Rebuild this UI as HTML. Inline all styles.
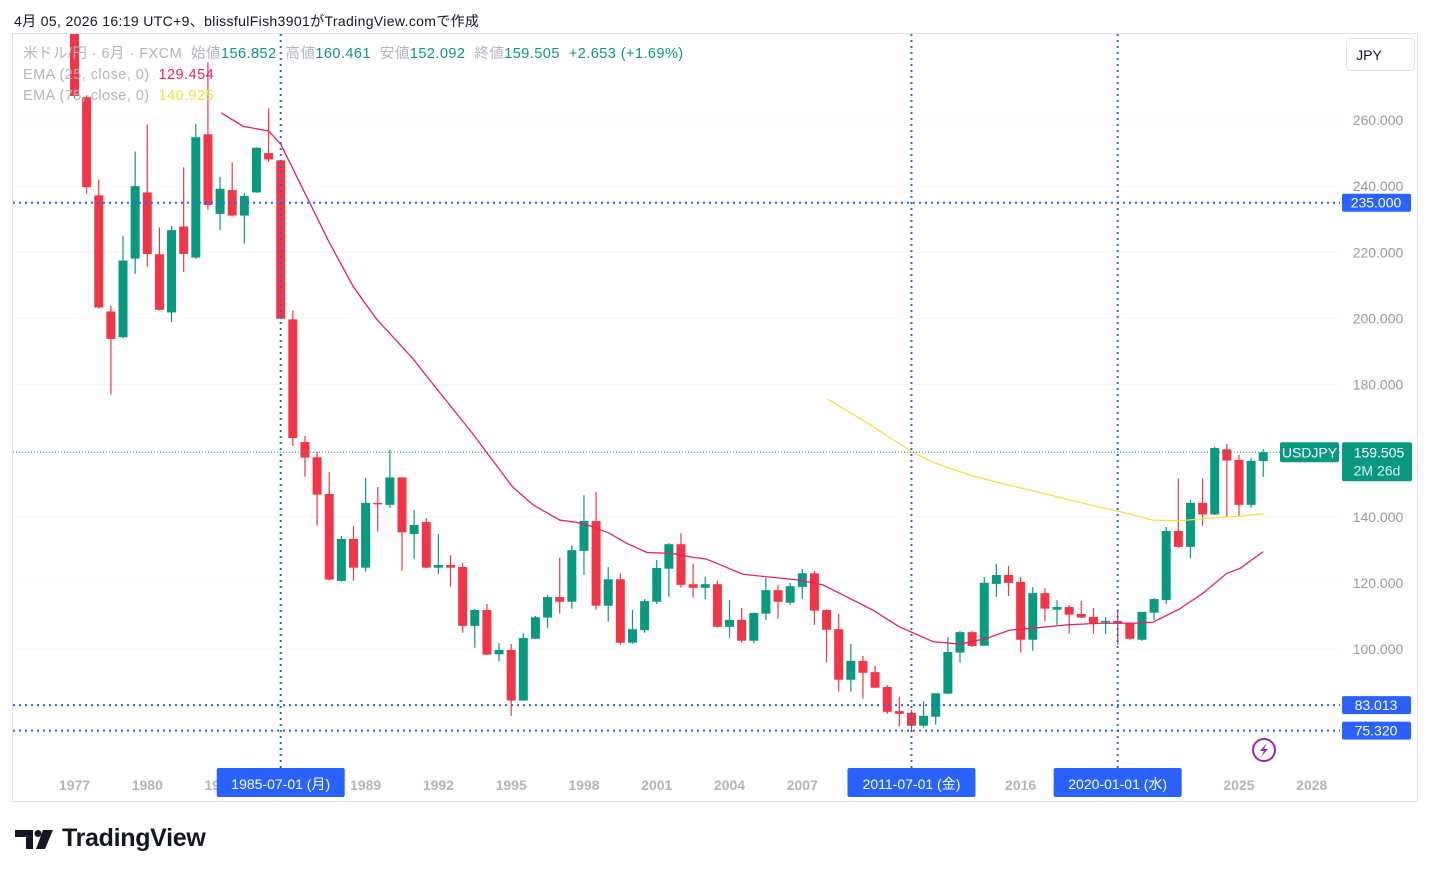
<!DOCTYPE html>
<html><head><meta charset="utf-8"><style>
body{margin:0;background:#fff;width:1431px;height:877px;overflow:hidden;font-family:"Liberation Sans","Noto Sans CJK JP",sans-serif}
#hdr{position:absolute;left:14px;top:11px;font-size:14px;color:#131722;letter-spacing:0.35px}
#legend{position:absolute;left:23px;top:44px;font-size:14.5px;color:#b2b5be;line-height:21px;letter-spacing:0.45px}
.g{color:#089981}.p{color:#e91e63}.y{color:#f7e03a}
#logo{position:absolute;left:62px;top:824px;font-size:25px;font-weight:bold;color:#131722;letter-spacing:-0.3px}
</style></head><body>
<div id="hdr">4月 05, 2026 16:19 UTC+9、blissfulFish3901がTradingView.comで作成</div>
<svg id="chart" width="1431" height="877" style="position:absolute;left:0;top:0"></svg>
<div id="legend">
<div>米ドル/円 · 6月 · FXCM &nbsp;始値<span class="g">156.852</span> &nbsp;高値<span class="g">160.461</span> &nbsp;安値<span class="g">152.092</span> &nbsp;終値<span class="g">159.505</span> &nbsp;<span class="g">+2.653 (+1.69%)</span></div>
<div>EMA (25, close, 0) &nbsp;<span class="p">129.454</span></div>
<div>EMA (75, close, 0) &nbsp;<span class="y">140.925</span></div>
</div>
<div id="logo">TradingView</div>
<script>
const opens=[292,266.9,237.2,202.1,194.3,218.1,238.1,219.4,201.8,227.8,218.4,255.7,231.6,238.8,231.1,238.1,250,247.8,199.7,162.6,158,146.9,120.6,133.3,124.6,144.2,143.6,151.9,134.8,138.4,124.6,125.4,124.8,107,111.8,98.4,99.7,84.4,103.1,109.5,115.7,114.3,129.7,138.7,113.1,121.1,101.9,105.7,114.3,124.3,131.7,119.6,118.5,119.6,106.7,108.8,102.5,110.7,117.8,114,118.8,122.9,111.8,106,90.7,96.4,93,88.5,81.2,80.7,76.8,79.5,86.5,98.9,105.1,101,119.7,122.4,120.3,102.8,116.9,111.9,112.7,110.6,109.7,108.1,108.5,107.8,102.8,111,114.8,135.7,130.9,144.2,140.7,160.4,157.2,143.6,156.852];
const highs=[295,267.5,242,203.8,224.9,250.5,258.6,227.5,228,245.7,258.8,277.5,242.8,247.2,238,251.8,263.5,248,202.4,164.4,159.6,153.5,134.2,137.2,151.7,149,160.2,152,142,139.6,134.8,128.4,126,112.1,113.6,101.8,101.5,104.8,110,116.3,127.6,131.4,146.5,147.5,124.8,122.9,111.8,115.1,126.9,132.1,135,125.7,121.8,120.6,114.8,112.4,111,121.5,119.4,120,124.2,123.6,112,110.6,101.5,97.9,94.9,89.1,85.5,81.6,84.2,86.7,103.6,105.5,105.5,121.8,125.7,125.1,121.8,118.7,118.4,114.8,113.3,114.5,112.4,109.7,112.1,108.1,111.3,115.4,136.9,151.6,145,151.6,161.2,162,158.7,157.7,160.461];
const lows=[266.5,237.8,203,177,194,213.5,215.6,202.4,198.9,214,218,232.9,226.7,230.8,222.6,238,247.3,199.8,161.4,152.1,137.3,120.8,120.4,120.7,123.4,135.5,142.7,123.7,127.3,124.5,122.7,118.8,104.9,100.4,98.2,96.2,79.8,84.3,103,106.4,110.7,112.2,122.4,111.9,108.3,101.3,101.6,104.9,113.6,115.8,118.6,115.5,115.1,106.5,103.4,101.9,101.7,108.8,109.2,113.4,115.2,107.3,95.9,87.1,87.1,85,88.2,80.4,76.5,75.3,76.2,77.1,86.4,95.9,100.6,100.9,115.8,116,98.9,99.5,108.3,107.3,104.6,109.4,104.6,104.6,101.3,102.8,102.5,108.8,113.5,130.6,127.4,137.3,140.5,139.8,140,142.7,152.092];
const closes=[267.3,239.7,203.3,193.8,217.5,240,219.5,202.6,226.7,219.5,254.8,234.3,239.2,231.1,237,251.6,248.1,199.9,163.8,157.9,146.7,121,133.3,124.6,144.2,144,151.9,135.3,137.5,124.6,125.4,124.6,107,111.8,98.3,99.7,84.4,103.3,109.6,115.7,114.3,129.9,138.7,113.1,121.1,101.9,106,114.5,124.5,131.7,119.4,118.5,119.6,106.7,108.8,102.5,110.9,117.8,114.3,119,122.9,111.6,105.8,90.7,96.4,92.8,88.3,81,80.4,76.8,79.8,86.6,99.1,105.1,100.9,120,122.4,120,102.8,116.9,112.2,112.7,110.4,109.5,107.8,108.5,107.8,103.1,111.2,115.1,135.7,130.9,144.2,140.7,160.8,157,143.6,156.9,159.505];
const ema25Idx=[12.1,13.9,16,17,19.2,21,23,24.9,27.9,30.1,32.6,36.1,37.8,40,41.4,42.7,44.1,45.5,47.2,49.3,50.7,52.1,55.1,59.6,61.7,63.1,65.8,68,70.8,73,75.2,77.1,79,81.8,84.5,87.3,88.9,91.1,93,95,96.1,98];
const ema25Val=[262.2,258.1,256.7,252.7,236.4,223,209.5,199.8,187.8,177.6,166.2,149.1,143.6,139,138.3,137,135,132,129.2,128.9,127.9,127.2,122.6,120.9,119.4,116.8,111.8,106.7,102.2,101.5,103.2,105.7,106.3,107.3,107.8,107.8,108.1,112.1,116.8,122.9,124.4,129.454];
const ema75Idx=[62.1,65.6,69.05,70.9,73.8,76.3,80.4,83.7,86.2,88.9,91.1,93.4,96.1,98];
const ema75Val=[175.6,167.8,159.6,156.3,152.6,150.2,146.6,143.6,141.5,139,138.8,139.5,140.2,140.925];
const yTicks=[260,240,220,200,180,140,120,100];
const xYears=[1977,1980,1983,1986,1989,1992,1995,1998,2001,2004,2007,2010,2013,2016,2019,2022,2025,2028];
const markLines=[235,83.013,75.32];
const markLabels=["235.000","83.013","75.320"];
const vMarkIdx=[17,69,86];
const vMarkLabels=["1985-07-01 (月)","2011-07-01 (金)","2020-01-01 (水)"];
const lastPrice=159.505;

const NS="http://www.w3.org/2000/svg";
const svg=document.getElementById('chart');
const X0=74.5,DX=12.13;
const xi=i=>X0+i*DX;
const xYear=y=>X0+(y-1977)*DX*2;
const yv=v=>649-(v-100)*3.306;
function mk(tag,attrs,parent){const e=document.createElementNS(NS,tag);for(const k in attrs)e.setAttribute(k,attrs[k]);(parent||svg).appendChild(e);return e;}

mk('rect',{x:12.5,y:33.5,width:1405,height:768,fill:'none',stroke:'#e0e3eb'});
const defs=mk('defs',{});
const cp=mk('clipPath',{id:'pc'},defs);
mk('rect',{x:13,y:34,width:1327,height:734},cp);
const plot=mk('g',{'clip-path':'url(#pc)'});



yTicks.forEach(t=>{const l=mk('line',{x1:13,x2:1340,y1:yv(t),y2:yv(t),stroke:'#f5f6f8'},plot);

});

for(let i=0;i<opens.length;i++){
 const up=closes[i]>=opens[i];const col=up?'#089981':'#f23645';
 const g=mk('g',{},plot);
 
 
 const x=xi(i);
 mk('line',{x1:x,x2:x,y1:yv(highs[i]),y2:yv(lows[i]),stroke:col,'stroke-width':1.2},g);
 const t=yv(Math.max(opens[i],closes[i])),b=yv(Math.min(opens[i],closes[i]));
 mk('rect',{x:x-4.5,y:t,width:9,height:Math.max(1.5,b-t),fill:col},g);
}
function line(idx,vals,col,name){const p=mk('polyline',{points:idx.map((d,k)=>xi(d)+','+yv(vals[k])).join(' '),fill:'none',stroke:col,'stroke-width':1.3},plot);

}
line(ema25Idx,ema25Val,'#e91e63','ema25-line');
line(ema75Idx,ema75Val,'#f7e03a','ema75-line');

const lp=mk('line',{x1:13,x2:1340,y1:yv(lastPrice),y2:yv(lastPrice),stroke:'#089981','stroke-dasharray':'1 2'},plot);


markLines.forEach(v=>{const l=mk('line',{x1:13,x2:1340,y1:yv(v),y2:yv(v),stroke:'#2962ff','stroke-width':2,'stroke-dasharray':'2 4'},plot);

});
vMarkIdx.forEach(i=>{const l=mk('line',{x1:xi(i),x2:xi(i),y1:34,y2:768,stroke:'#2962ff','stroke-width':2,'stroke-dasharray':'2 4'});

});

yTicks.forEach(t=>{const tx=mk('text',{x:1378,y:yv(t)+5,'text-anchor':'middle','font-size':14,fill:'#9598a1'});tx.textContent=t.toFixed(3);

});
xYears.forEach(yr=>{const tx=mk('text',{x:xYear(yr),y:790,'text-anchor':'middle','font-size':14,'font-weight':'bold',fill:'#b2b5be'});tx.textContent=yr;

});

markLines.forEach((v,k)=>{const g=mk('g',{});


mk('rect',{x:1342,y:yv(v)-9,width:69,height:18,rx:2,fill:'#2962ff'},g);
const tx=mk('text',{x:1376,y:yv(v)+5,'text-anchor':'middle','font-size':14,fill:'#fff'},g);tx.textContent=markLabels[k];});
vMarkIdx.forEach((i,k)=>{const g=mk('g',{});


mk('rect',{x:xi(i)-64,y:768,width:128,height:29,rx:2,fill:'#2962ff'},g);
const tx=mk('text',{x:xi(i),y:789,'text-anchor':'middle','font-size':14,fill:'#fff'},g);tx.textContent=vMarkLabels[k];});

const lg=mk('g',{});


mk('rect',{x:1280,y:yv(lastPrice)-10,width:59,height:20,rx:2,fill:'#089981'},lg);
let t1=mk('text',{x:1309.5,y:yv(lastPrice)+5,'text-anchor':'middle','font-size':14,fill:'#fff'},lg);t1.textContent='USDJPY';
mk('rect',{x:1342,y:yv(lastPrice)-10,width:70,height:39,rx:2,fill:'#089981'},lg);
let t2=mk('text',{x:1379,y:yv(lastPrice)+5,'text-anchor':'middle','font-size':14,fill:'#fff'},lg);t2.textContent=lastPrice.toFixed(3);
let t3=mk('text',{x:1377,y:yv(lastPrice)+23,'text-anchor':'middle','font-size':14,fill:'#d9f2ee'},lg);t3.textContent='2M 26d';

const jb=mk('g',{});


mk('rect',{x:1346.5,y:38.5,width:68,height:32,rx:4,fill:'#fff',stroke:'#e0e3eb'},jb);
let jt=mk('text',{x:1369,y:60,'text-anchor':'middle','font-size':14,fill:'#131722'},jb);jt.textContent='JPY';

const li=mk('g',{});


mk('circle',{cx:1264,cy:750,r:11,fill:'none',stroke:'#9c27b0','stroke-width':2},li);
mk('path',{d:'M1267 743 L1260 751 L1264 751 L1261 757 L1268 749 L1264 749 Z',fill:'#9c27b0'},li);

const lm=mk('g',{fill:'#131722'});


mk('path',{d:'M15 830 H33 V849 H26 V837 H15 Z'},lm);
mk('circle',{cx:38,cy:833.5,r:3.5},lm);
mk('path',{d:'M43 830 H53 L45 849 H36 Z'},lm);
</script>
</body></html>
